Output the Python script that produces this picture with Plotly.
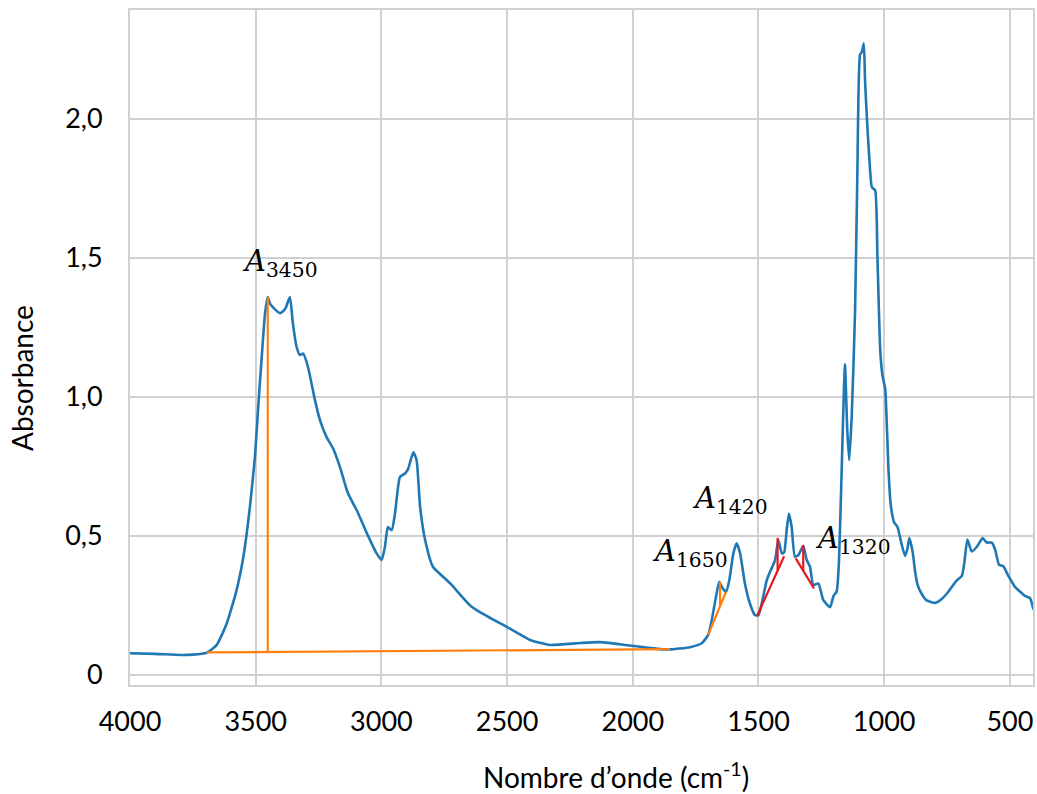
import plotly.graph_objects as go

# Spectrum (wavenumber in cm-1, absorbance)
wavenumber = [4000, 3900, 3800, 3750, 3695, 3655, 3615, 3576, 3549, 3523, 3503, 3490, 3476, 3463,
              3452, 3443, 3430, 3403, 3383, 3364, 3352, 3337, 3324, 3311, 3292, 3264, 3244, 3218,
              3192, 3165, 3133, 3098, 3058, 3019, 2999, 2986, 2974, 2959, 2946, 2926, 2906, 2894,
              2873, 2860, 2846, 2826, 2795, 2727, 2647, 2608, 2496, 2409, 2329, 2210, 2130, 1995,
              1892, 1852, 1772, 1726, 1700, 1686, 1669, 1656, 1642, 1629, 1616, 1600, 1587, 1573,
              1554, 1534, 1514, 1500, 1487, 1467, 1454, 1434, 1421, 1407, 1398, 1388, 1379, 1368,
              1355, 1341, 1322, 1308, 1295, 1282, 1262, 1242, 1215, 1202, 1189, 1180, 1169, 1156,
              1147, 1139, 1129, 1116, 1107, 1096, 1089, 1081, 1076, 1067, 1056, 1049, 1036, 1027,
              1016, 1007, 996, 983, 974, 960, 947, 930, 917, 908, 900, 887, 877, 867, 851, 831,
              798, 778, 751, 725, 711, 691, 681, 669, 652, 632, 608, 592, 572, 559, 543, 526, 506,
              479, 460, 440, 420, 406]
absorbance = [0.078, 0.076, 0.072, 0.073, 0.080, 0.108, 0.186, 0.305, 0.425, 0.604, 0.784, 0.963, 1.143, 1.298,
              1.358, 1.335, 1.320, 1.300, 1.315, 1.358, 1.263, 1.178, 1.150, 1.155, 1.107, 0.987, 0.915, 0.855,
              0.814, 0.748, 0.653, 0.592, 0.510, 0.437, 0.413, 0.460, 0.532, 0.520, 0.580, 0.712, 0.724, 0.740,
              0.800, 0.772, 0.604, 0.485, 0.389, 0.330, 0.250, 0.226, 0.170, 0.126, 0.108, 0.115, 0.118, 0.104,
              0.093, 0.092, 0.100, 0.114, 0.144, 0.197, 0.281, 0.335, 0.311, 0.299, 0.341, 0.437, 0.473, 0.437,
              0.329, 0.257, 0.215, 0.215, 0.257, 0.341, 0.371, 0.413, 0.485, 0.437, 0.440, 0.520, 0.580, 0.532,
              0.425, 0.431, 0.463, 0.413, 0.389, 0.323, 0.329, 0.269, 0.244, 0.283, 0.300, 0.404, 0.740, 1.117,
              0.884, 0.772, 0.933, 1.301, 1.782, 2.230, 2.239, 2.270, 2.134, 1.974, 1.814, 1.753, 1.742, 1.509,
              1.173, 1.077, 1.029, 0.740, 0.612, 0.548, 0.532, 0.468, 0.428, 0.452, 0.492, 0.444, 0.372, 0.324,
              0.292, 0.268, 0.259, 0.268, 0.292, 0.324, 0.340, 0.356, 0.404, 0.487, 0.444, 0.460, 0.492, 0.476,
              0.476, 0.452, 0.396, 0.391, 0.356, 0.316, 0.300, 0.284, 0.276, 0.235]

# Construction lines
base3450_x = [3695, 1852]
base3450_y = [0.081, 0.093]
peak3450_x = [3452, 3452]
peak3450_y = [0.082, 1.358]

base1650_x = [1700, 1629]
base1650_y = [0.144, 0.299]
peak1650_x = [1653, 1653]
peak1650_y = [0.247, 0.335]

base1420_x = [1505, 1398]
base1420_y = [0.213, 0.427]
peak1420_x = [1424, 1424]
peak1420_y = [0.376, 0.493]

base1320_x = [1352, 1279]
base1320_y = [0.419, 0.311]
peak1320_x = [1322, 1322]
peak1320_y = [0.374, 0.467]

labels = ["3450", "1650", "1420", "1320"]
label_x = [3403, 1772, 1613, 1124]
label_y = [1.482, 0.438, 0.628, 0.485]

x_ticks = [4000, 3500, 3000, 2500, 2000, 1500, 1000, 500]
y_ticks = [0, 0.5, 1.0, 1.5, 2.0]
y_ticktext = ["0", "0,5", "1,0", "1,5", "2,0"]

BLUE = "#1f77b4"
ORANGE = "#ff7f0e"
RED = "#e8161c"
GRID = "#d0d0d0"

L, R, T, B = 130, 1033, 10, 685
W, H = 1037, 794

fig = go.Figure()
fig.add_trace(go.Scatter(x=wavenumber, y=absorbance, mode="lines",
                         line=dict(color=BLUE, width=2.6, shape="spline", smoothing=0.5),
                         showlegend=False))
for xs, ys, c in [(base3450_x, base3450_y, ORANGE), (peak3450_x, peak3450_y, ORANGE),
                  (base1650_x, base1650_y, ORANGE), (peak1650_x, peak1650_y, ORANGE),
                  (base1420_x, base1420_y, RED), (peak1420_x, peak1420_y, RED),
                  (base1320_x, base1320_y, RED), (peak1320_x, peak1320_y, RED)]:
    fig.add_trace(go.Scatter(x=xs, y=ys, mode="lines", line=dict(color=c, width=2.2),
                             showlegend=False))

for lab, lx, ly in zip(labels, label_x, label_y):
    fig.add_annotation(x=lx, y=ly, xref="x", yref="y", showarrow=False,
                       text=f"<i>A</i><sub>{lab}</sub>",
                       font=dict(family="DejaVu Serif", size=29, color="black"),
                       xanchor="center", yanchor="middle")

# axis titles placed at their pixel positions (converted to paper coordinates)
fig.add_annotation(x=(616 - L) / (R - L), y=(B - 775) / (B - T), xref="paper", yref="paper",
                   showarrow=False, text="Nombre d’onde (cm<sup>-1</sup>)",
                   xanchor="center", yanchor="middle",
                   font=dict(family="Lato", size=28, color="black"))
fig.add_annotation(x=(22 - L) / (R - L), y=(B - 378) / (B - T), xref="paper", yref="paper",
                   showarrow=False, text="Absorbance", textangle=-90,
                   xanchor="center", yanchor="middle",
                   font=dict(family="Lato", size=28, color="black"))

fig.update_layout(
    width=W, height=H,
    margin=dict(l=L, r=W - R, t=T, b=H - B, autoexpand=False),
    plot_bgcolor="white", paper_bgcolor="white",
    font=dict(family="Lato", size=26, color="black"),
)
fig.update_xaxes(range=[4000, 408], tickvals=x_ticks, showgrid=True, gridcolor=GRID,
                 gridwidth=2, showline=True, linecolor=GRID, linewidth=2, mirror=True,
                 zeroline=False, ticks="", ticklabelstandoff=12, automargin=False,
                 tickfont=dict(family="Lato", size=27))
fig.update_yaxes(range=[-0.036, 2.39], tickvals=y_ticks, ticktext=y_ticktext, showgrid=True,
                 gridcolor=GRID, gridwidth=2, showline=True, linecolor=GRID, linewidth=2,
                 mirror=True, zeroline=False, ticks="", ticklabelstandoff=20, automargin=False,
                 tickfont=dict(family="Lato", size=27))

fig.write_html("out.html", config={"displayModeBar": False},
               post_script="document.body.style.margin='0';document.body.style.overflow='hidden';")
